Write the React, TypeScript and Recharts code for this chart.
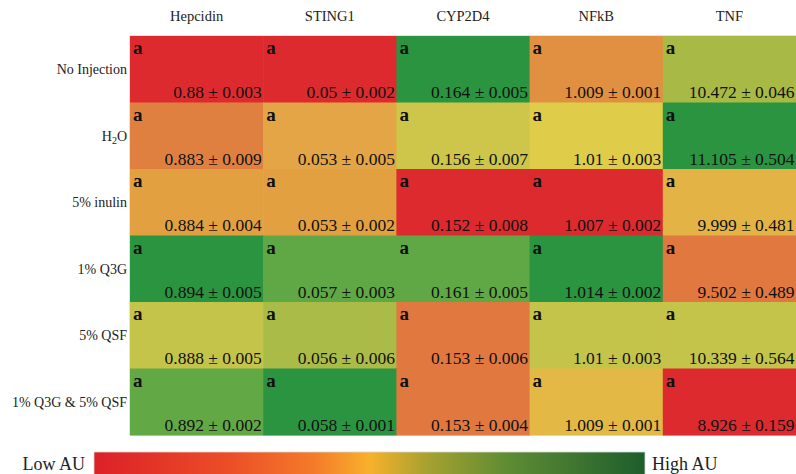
import { ScatterChart, Scatter, XAxis, YAxis, Customized } from 'recharts'

const GENES = ['Hepcidin', 'STING1', 'CYP2D4', 'NFkB', 'TNF']
const GROUPS = ['No Injection', 'H2O', '5% inulin', '1% Q3G', '5% QSF', '1% Q3G & 5% QSF']

// mean per group (rows) and gene (columns)
const MEANS = [
  [0.88, 0.05, 0.164, 1.009, 10.472],
  [0.883, 0.053, 0.156, 1.01, 11.105],
  [0.884, 0.053, 0.152, 1.007, 9.999],
  [0.894, 0.057, 0.161, 1.014, 9.502],
  [0.888, 0.056, 0.153, 1.01, 10.339],
  [0.892, 0.058, 0.153, 1.009, 8.926],
]
const SDS = [
  [0.003, 0.002, 0.005, 0.001, 0.046],
  [0.009, 0.005, 0.007, 0.003, 0.504],
  [0.004, 0.002, 0.008, 0.002, 0.481],
  [0.005, 0.003, 0.005, 0.002, 0.489],
  [0.005, 0.006, 0.006, 0.003, 0.564],
  [0.002, 0.001, 0.004, 0.001, 0.159],
]
const LETTERS = [
  ['a', 'a', 'a', 'a', 'a'],
  ['a', 'a', 'a', 'a', 'a'],
  ['a', 'a', 'a', 'a', 'a'],
  ['a', 'a', 'a', 'a', 'a'],
  ['a', 'a', 'a', 'a', 'a'],
  ['a', 'a', 'a', 'a', 'a'],
]

// cell shades (low = red, high = green within each gene)
const FILLS = [
  ['#dc2a2e', '#dc2a2e', '#2a9440', '#e09040', '#a8ba45'],
  ['#e08040', '#e3a545', '#cec64a', '#dfcd4a', '#2a9440'],
  ['#e3a040', '#e3a040', '#dc2a2e', '#dc2a2e', '#e3b445'],
  ['#2a9440', '#60a845', '#60a845', '#2a9440', '#e07840'],
  ['#c5c44a', '#aabb48', '#e07840', '#c5c44a', '#c5c44a'],
  ['#62a845', '#2a9440', '#e07840', '#e3b845', '#dc2a2e'],
]

document.body.style.margin = '0'

const W = 796
const H = 474
const M = { top: 6, right: 0, bottom: 39, left: 0 }
const X_AXIS_H = 30
const Y_AXIS_W = 130
const CELL_W = (W - Y_AXIS_W - M.left - M.right) / GENES.length
const CELL_H = (H - M.top - X_AXIS_H - M.bottom) / GROUPS.length
const FONT = '"Liberation Serif", "Times New Roman", serif'

const points = GROUPS.flatMap((g, r) =>
  GENES.map((gene, c) => ({
    x: c,
    y: r,
    mean: MEANS[r][c],
    sd: SDS[r][c],
    letter: LETTERS[r][c],
    fill: FILLS[r][c],
  }))
)

const HeatCell = (props: any) => {
  const { cx, cy, payload } = props
  const x0 = cx - CELL_W / 2
  const y0 = cy - CELL_H / 2
  return (
    <g>
      <rect x={x0} y={y0} width={CELL_W + 0.6} height={CELL_H + 0.6} fill={payload.fill} />
      <text x={x0 + 3} y={y0 + 18} fontFamily={FONT} fontWeight="bold" fontSize={19} fill="#111">
        {payload.letter}
      </text>
      <text
        x={x0 + CELL_W - 1.5}
        y={y0 + CELL_H - 4.5}
        textAnchor="end"
        fontFamily={FONT}
        fontSize={17.5}
        fill="#111"
      >
        {`${payload.mean} ± ${payload.sd}`}
      </text>
    </g>
  )
}

const GroupTick = (props: any) => {
  const { x, y, payload } = props
  const label = GROUPS[payload.value]
  return (
    <text x={x} y={y} dy={5} textAnchor="end" fontFamily={FONT} fontSize={14} fill="#222">
      {label === 'H2O' ? (
        <>
          H<tspan fontSize={10} dy={3}>2</tspan>
          <tspan dy={-3}>O</tspan>
        </>
      ) : (
        label
      )}
    </text>
  )
}

const ColorBar = () => (
  <g>
    <defs>
      <linearGradient id="auGrad" x1="0" y1="0" x2="1" y2="0">
        <stop offset="0" stopColor="#dc2027" />
        <stop offset="0.25" stopColor="#ec4f27" />
        <stop offset="0.4" stopColor="#f47b2a" />
        <stop offset="0.5" stopColor="#f8b12c" />
        <stop offset="0.6" stopColor="#a9a230" />
        <stop offset="0.75" stopColor="#5e8c33" />
        <stop offset="1" stopColor="#1d5e2d" />
      </linearGradient>
    </defs>
    <rect x={94} y={452} width={551} height={26} fill="url(#auGrad)" stroke="#d8d8d8" strokeWidth={0.8} />
    <text x={85} y={470} textAnchor="end" fontFamily={FONT} fontSize={18} fill="#222">
      Low AU
    </text>
    <text x={652} y={470} fontFamily={FONT} fontSize={18} fill="#222">
      High AU
    </text>
  </g>
)

export default function App() {
  return (
    <ScatterChart width={W} height={H} margin={M}>
      <XAxis
        type="number"
        dataKey="x"
        orientation="top"
        height={X_AXIS_H}
        domain={[-0.5, GENES.length - 0.5]}
        ticks={GENES.map((_, i) => i)}
        tickFormatter={(i: number) => GENES[i]}
        tickLine={false}
        tickMargin={9}
        axisLine={{ stroke: '#c8c8c8' }}
        tick={{ fontFamily: FONT, fontSize: 14.5, fill: '#222' }}
        interval={0}
      />
      <YAxis
        type="number"
        dataKey="y"
        reversed
        width={Y_AXIS_W}
        domain={[-0.5, GROUPS.length - 0.5]}
        ticks={GROUPS.map((_, i) => i)}
        tickLine={false}
        tickSize={0}
        tickMargin={3}
        axisLine={{ stroke: '#c8c8c8' }}
        tick={<GroupTick />}
        interval={0}
      />
      <Scatter data={points} shape={<HeatCell />} isAnimationActive={false} />
      <Customized component={ColorBar} />
    </ScatterChart>
  )
}
